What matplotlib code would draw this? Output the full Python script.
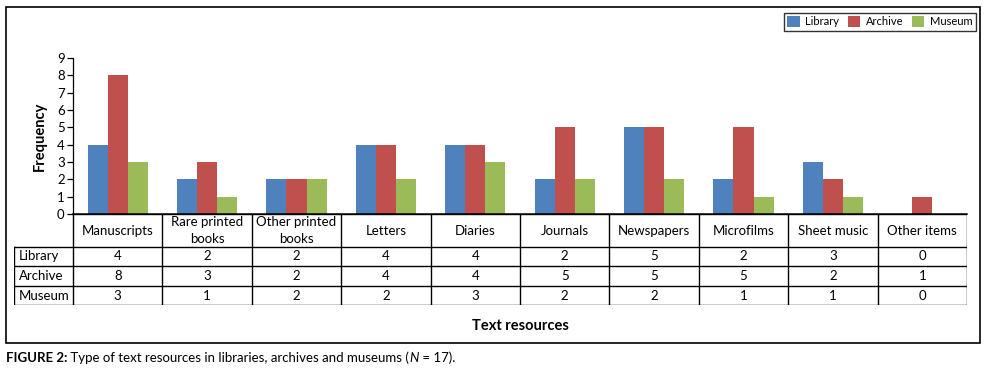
import matplotlib
matplotlib.use("Agg")
import matplotlib.pyplot as plt
from matplotlib.patches import Rectangle, Patch
import numpy as np

categories = ["Manuscripts", "Rare printed\nbooks", "Other printed\nbooks", "Letters", "Diaries",
              "Journals", "Newspapers", "Microfilms", "Sheet music", "Other items"]
series_names = ["Library", "Archive", "Museum"]
library = [4, 2, 2, 4, 4, 2, 5, 2, 3, 0]
archive = [8, 3, 2, 4, 4, 5, 5, 5, 2, 1]
museum = [3, 1, 2, 2, 3, 2, 2, 1, 1, 0]
yticks = list(range(0, 10))
colors = ["#4F81BD", "#C0504D", "#9BBB59"]

plt.rcParams['font.family'] = ['Lato', 'DejaVu Sans']

W, H = 986, 372
fig = plt.figure(figsize=(W / 100, H / 100), dpi=100)

def fx(px):
    return px / W

def fy(py):
    return 1 - py / H

# outer border
fig.patches.append(Rectangle((fx(6), fy(343)), fx(980) - fx(6), fy(7) - fy(343),
                             transform=fig.transFigure, fill=False, ec='black', lw=1.2))

# bar axes
x0, x1, ytop, ybot = 73, 967, 58, 214
ax = fig.add_axes([fx(x0), fy(ybot), fx(x1) - fx(x0), fy(ytop) - fy(ybot)])
n = len(categories)
x = np.arange(n)
bw = 0.224
for i, (vals, c) in enumerate(zip([library, archive, museum], colors)):
    ax.bar(x + (i - 1) * bw, vals, width=bw, color=c, edgecolor='none', label=series_names[i])
ax.set_xlim(-0.5, n - 0.5)
ax.set_ylim(0, 9)
ax.set_yticks(yticks)
ax.tick_params(axis='y', length=4, width=0.9, labelsize=9.5, pad=2)
ax.set_xticks([])
for s in ['top', 'right']:
    ax.spines[s].set_visible(False)
ax.spines['left'].set_linewidth(0.9)
ax.spines['bottom'].set_linewidth(1.1)
ax.set_ylabel("Frequency", fontsize=10.5, fontweight='bold', labelpad=7)

# table axes
label_w = (x0 - 14) / ((x1 - x0) / n)
tax = fig.add_axes([fx(14), fy(305), fx(x1) - fx(14), fy(214) - fy(305)])
tax.set_xlim(-0.5 - label_w, n - 0.5)
tax.set_ylim(305, 214)
tax.axis('off')
rows_y = [214, 247, 266, 286, 305]
lw = 1.0
tax.plot([-0.5, n - 0.5], [214, 214], color='black', lw=lw)
for yy in rows_y[1:]:
    tax.plot([-0.5 - label_w, n - 0.5], [yy, yy], color='black', lw=lw)
for k in range(n + 1):
    tax.plot([k - 0.5, k - 0.5], [214, 305], color='black', lw=lw)
tax.plot([-0.5 - label_w] * 2, [247, 305], color='black', lw=lw)
for k, cat in enumerate(categories):
    tax.text(k, (214 + 247) / 2, cat, ha='center', va='center', fontsize=9.5, linespacing=1.45)
for r, (name, vals) in enumerate(zip(series_names, [library, archive, museum])):
    yc = (rows_y[r + 1] + rows_y[r + 2]) / 2
    tax.text(-0.5 - label_w + 0.05, yc, name, ha='left', va='center', fontsize=9.5)
    for k, v in enumerate(vals):
        tax.text(k, yc, str(v), ha='center', va='center', fontsize=9.5)

# x label
fig.text(fx((x0 + x1) / 2), fy(326), "Text resources", ha='center', va='center',
         fontsize=10.5, fontweight='bold')

# legend
handles = [Patch(facecolor=c, edgecolor='none') for c in colors]
leg = fig.legend(handles, series_names, loc='upper right', bbox_to_anchor=(fx(976), fy(13)),
                 ncol=3, frameon=True, fontsize=8, handlelength=1.1, handleheight=1.1,
                 handletextpad=0.5, columnspacing=0.8, borderpad=0.3, borderaxespad=0,
                 fancybox=False)
leg.get_frame().set_edgecolor('black')
leg.get_frame().set_linewidth(1.0)

# caption pieces
renderer = fig.canvas.get_renderer()
pieces = [("FIGURE 2:", 'bold', 'normal'),
          (" Type of text resources in libraries, archives and museums (", 'normal', 'normal'),
          ("N", 'normal', 'italic'),
          (" = 17).", 'normal', 'normal')]
cx = 6
for txt, wt, st in pieces:
    t = fig.text(fx(cx), fy(358), txt, ha='left', va='center', fontsize=9.5,
                 fontweight=wt, fontstyle=st)
    bb = t.get_window_extent(renderer)
    cx += bb.width

fig.savefig("out.png", dpi=100)
